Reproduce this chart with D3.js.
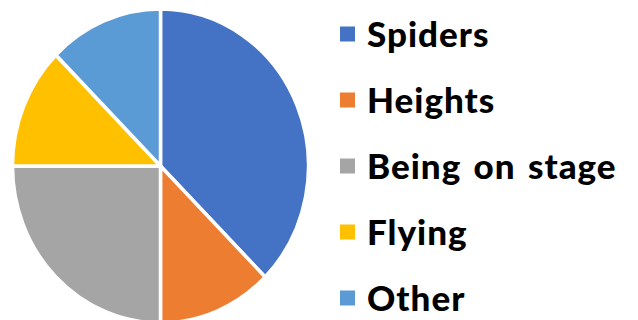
<!DOCTYPE html>
<html>
<head>
<meta charset="utf-8">
<script src="https://cdn.jsdelivr.net/npm/d3@7"></script>
<style>
  html, body { margin: 0; padding: 0; background: #fff; }
  svg { display: block; }
</style>
</head>
<body>
<svg id="chart" width="638" height="320"></svg>
<script>
// Phobia shares
const categories = ["Spiders", "Heights", "Being on stage", "Flying", "Other"];
const values = [3, 1, 2, 1, 1];
const colors = ["#4472C4", "#ED7D31", "#A5A5A5", "#FFC000", "#5B9BD5"];

const svg = d3.select("#chart");

// Pie geometry (slightly taller than wide)
const cx = 160.5, cy = 166, rx = 148, ry = 157;

const pie = d3.pie().sort(null).value(d => d.value);
const arcs = pie(categories.map((c, i) => ({ name: c, value: values[i] })));
const arc = d3.arc().innerRadius(0).outerRadius(rx);
const color = d3.scaleOrdinal().domain(categories).range(colors);

svg.append("g")
  .attr("transform", `translate(${cx},${cy}) scale(1,${ry / rx})`)
  .selectAll("path")
  .data(arcs)
  .join("path")
  .attr("d", arc)
  .attr("fill", d => color(d.data.name))
  .attr("stroke", "#fff")
  .attr("stroke-width", 3.5)
  .attr("vector-effect", "non-scaling-stroke")
  .attr("stroke-linejoin", "round");

// Legend
const legendY = d3.scalePoint().domain(categories).range([34, 298]);
const legend = svg.append("g");
const item = legend.selectAll("g")
  .data(categories)
  .join("g")
  .attr("transform", d => `translate(340,${legendY(d)})`);

item.append("rect")
  .attr("x", 0).attr("y", -7.5)
  .attr("width", 15).attr("height", 15)
  .attr("fill", d => color(d));

item.append("text")
  .attr("x", 27).attr("y", 12.5)
  .attr("font-family", "Lato, 'Open Sans', sans-serif")
  .attr("font-weight", 900)
  .attr("font-size", 35)
  .attr("letter-spacing", 1)
  .attr("word-spacing", 3)
  .attr("fill", "#000")
  .text(d => d);
</script>
</body>
</html>
